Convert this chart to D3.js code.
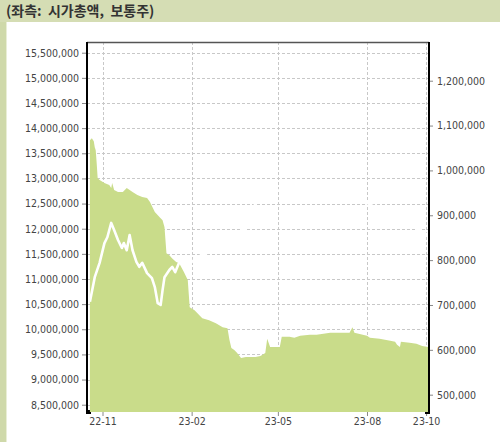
<!DOCTYPE html>
<html>
<head>
<meta charset="utf-8">
<script src="https://cdn.jsdelivr.net/npm/d3@7"></script>
<style>
	body { margin: 0; background: #fff; }
	svg { display: block; }
	.tick text { font-family: "DejaVu Sans Condensed", "DejaVu Sans", sans-serif; font-size: 10.5px; fill: #444; }
</style>
</head>
<body>
<svg width="500" height="442"></svg>
<script>
// market cap (left axis)
const capDates = [
	'2022-10-19', '2022-10-21', '2022-10-23', '2022-10-24', '2022-10-25', '2022-10-26', '2022-10-27', '2022-10-29',
	'2022-11-03', '2022-11-08', '2022-11-10', '2022-11-11', '2022-11-13', '2022-11-17', '2022-11-22', '2022-11-26',
	'2022-11-29', '2022-12-02', '2022-12-07', '2022-12-12', '2022-12-17', '2022-12-20', '2022-12-25', '2022-12-30',
	'2023-01-02', '2023-01-04', '2023-01-06', '2023-01-09', '2023-01-12', '2023-01-16', '2023-01-19', '2023-01-24',
	'2023-01-28', '2023-01-30', '2023-02-04', '2023-02-09', '2023-02-12', '2023-02-19', '2023-02-26', '2023-03-05',
	'2023-03-10', '2023-03-12', '2023-03-14', '2023-03-17', '2023-03-20', '2023-03-24', '2023-03-29', '2023-04-03',
	'2023-04-08', '2023-04-13', '2023-04-18', '2023-04-20', '2023-04-23', '2023-05-03', '2023-05-05', '2023-05-13',
	'2023-05-18', '2023-05-24', '2023-06-03', '2023-06-10', '2023-06-24', '2023-07-04', '2023-07-14', '2023-07-17',
	'2023-07-19', '2023-08-01', '2023-08-04', '2023-08-14', '2023-08-25', '2023-08-30', '2023-09-01', '2023-09-04',
	'2023-09-05', '2023-09-14', '2023-09-21', '2023-09-27', '2023-10-03'
]
const capValues = [
	13760000, 13800000, 13740000, 13620000, 13560000, 13300000, 13010000, 12970000,
	12910000, 12870000, 12810000, 12910000, 12770000, 12730000, 12730000, 12810000,
	12770000, 12730000, 12670000, 12630000, 12610000, 12530000, 12330000, 12230000,
	12170000, 12030000, 11510000, 11470000, 11410000, 11340000, 11320000, 11140000,
	10980000, 10440000, 10380000, 10280000, 10220000, 10180000, 10120000, 10040000,
	10020000, 9790000, 9630000, 9590000, 9530000, 9430000, 9450000, 9450000,
	9450000, 9470000, 9530000, 9810000, 9650000, 9650000, 9850000, 9850000,
	9830000, 9870000, 9890000, 9890000, 9930000, 9930000, 9930000, 10040000,
	9930000, 9870000, 9830000, 9810000, 9770000, 9750000, 9690000, 9650000,
	9750000, 9730000, 9710000, 9670000, 9650000
]

// white line (right axis)
const lineDates = [
	'2022-10-19', '2022-10-24', '2022-10-29', '2022-11-03', '2022-11-06', '2022-11-10', '2022-11-13', '2022-11-17',
	'2022-11-21', '2022-11-23', '2022-11-26', '2022-11-29', '2022-12-02', '2022-12-06', '2022-12-09', '2022-12-12',
	'2022-12-17', '2022-12-22', '2022-12-25', '2022-12-28', '2022-12-31', '2023-01-02', '2023-01-04', '2023-01-09',
	'2023-01-12', '2023-01-15', '2023-01-19', '2023-01-24', '2023-02-01', '2023-02-09', '2023-02-19', '2023-03-04',
	'2023-03-17', '2023-03-28', '2023-04-03', '2023-04-08', '2023-04-16', '2023-05-03', '2023-05-18', '2023-06-02',
	'2023-06-17', '2023-07-03', '2023-07-19', '2023-08-02', '2023-08-14', '2023-08-29', '2023-09-08', '2023-09-20',
	'2023-10-03'
]
const lineValues = [
	707000, 762000, 794000, 838000, 851000, 883000, 867000, 845000,
	827000, 838000, 822000, 856000, 822000, 796000, 785000, 794000,
	771000, 760000, 740000, 704000, 700000, 733000, 762000, 778000,
	785000, 773000, 794000, 805000, 796000, 809000, 818000, 816000,
	845000, 872000, 900000, 927000, 949000, 956000, 945000, 961000,
	952000, 965000, 952000, 927000, 911000, 900000, 907000, 872000,
	856000
]

const leftTicks = [8500000, 9000000, 9500000, 10000000, 10500000, 11000000, 11500000, 12000000,
	12500000, 13000000, 13500000, 14000000, 14500000, 15000000, 15500000]
const rightTicks = [500000, 600000, 700000, 800000, 900000, 1000000, 1100000, 1200000]
const xTicks = ['2022-11-01', '2023-02-01', '2023-05-01', '2023-08-01', '2023-10-01']

const title = '(좌측:\u00a0\u00a0시가총액,\u00a0\u00a0보통주)'

const parse = d3.timeParse('%Y-%m-%d')

const svg = d3.select('svg')
const width = +svg.attr('width')
const height = +svg.attr('height')

const plot = { left: 87, right: 429, top: 42, bottom: 412 }

const x = d3.scaleTime()
	.domain([parse('2022-10-16'), parse('2023-10-04')])
	.range([plot.left, plot.right])

const yLeft = d3.scaleLinear()
	.domain([8355000, 15713000])
	.range([plot.bottom, plot.top])

const yRight = d3.scaleLinear()
	.domain([461400, 1286300])
	.range([plot.bottom, plot.top])

// frame / header
svg.append('rect').attr('width', width).attr('height', height).attr('fill', '#fff')
svg.append('rect').attr('width', width).attr('height', 22).attr('fill', '#d5ddb4')
svg.append('rect').attr('y', 22).attr('width', 6).attr('height', height - 22).attr('fill', '#cfd9aa')
svg.append('rect').attr('x', 6).attr('y', 22).attr('width', 1).attr('height', height - 22).attr('fill', '#e9eed6')

svg.append('text')
	.attr('x', 6)
	.attr('y', 16)
	.attr('font-family', '"Noto Sans CJK KR", sans-serif')
	.attr('font-weight', 'bold')
	.attr('font-size', 14)
	.attr('fill', '#333')
	.text(title)

// grid
const grid = svg.append('g')
	.attr('stroke', '#c8c8c8')
	.attr('stroke-dasharray', '3,2')
	.attr('stroke-width', 1)

grid.selectAll('.hgrid')
	.data(leftTicks)
	.enter()
	.append('line')
	.attr('x1', plot.left)
	.attr('x2', plot.right)
	.attr('y1', d => Math.round(yLeft(d)) + 0.5)
	.attr('y2', d => Math.round(yLeft(d)) + 0.5)

grid.selectAll('.vgrid')
	.data(xTicks)
	.enter()
	.append('line')
	.attr('x1', d => Math.round(x(parse(d))) + 0.5)
	.attr('x2', d => Math.round(x(parse(d))) + 0.5)
	.attr('y1', plot.top)
	.attr('y2', plot.bottom)

// bottom line under the area
svg.append('line')
	.attr('x1', plot.left).attr('x2', plot.right)
	.attr('y1', plot.bottom - 1).attr('y2', plot.bottom - 1)
	.attr('stroke', '#000').attr('stroke-width', 2)

const capData = capDates.map((d, i) => ({ date: parse(d), value: capValues[i] }))
const lineData = lineDates.map((d, i) => ({ date: parse(d), value: lineValues[i] }))

const area = d3.area()
	.x(d => x(d.date))
	.y0(plot.bottom)
	.y1(d => yLeft(d.value))

svg.append('path')
	.datum(capData)
	.attr('d', area)
	.attr('fill', '#c9dc8a')

const line = d3.line()
	.x(d => x(d.date))
	.y(d => yRight(d.value))

svg.append('path')
	.datum(lineData)
	.attr('d', line)
	.attr('fill', 'none')
	.attr('stroke', '#fff')
	.attr('stroke-width', 2.6)
	.attr('stroke-linejoin', 'round')

// axes
const leftAxis = svg.append('g')
	.attr('transform', `translate(${plot.left},0)`)
	.call(d3.axisLeft(yLeft).tickValues(leftTicks).tickSize(5).tickSizeOuter(0).tickPadding(3).tickFormat(d3.format(',')))
leftAxis.select('.domain').remove()
leftAxis.selectAll('.tick line').attr('stroke', '#888')

const rightAxis = svg.append('g')
	.attr('transform', `translate(${plot.right},0)`)
	.call(d3.axisRight(yRight).tickValues(rightTicks).tickSize(4).tickSizeOuter(0).tickPadding(4).tickFormat(d3.format(',')))
rightAxis.select('.domain').remove()
rightAxis.selectAll('.tick line').attr('stroke', '#888')

const xAxis = svg.append('g')
	.attr('transform', `translate(0,${plot.bottom})`)
	.call(d3.axisBottom(x).tickValues(xTicks.map(parse)).tickSize(4).tickSizeOuter(0).tickPadding(2).tickFormat(d3.timeFormat('%y-%m')))
xAxis.select('.domain').remove()
xAxis.selectAll('.tick line').attr('stroke', '#888')

// plot border
svg.append('line')
	.attr('x1', plot.left).attr('x2', plot.right)
	.attr('y1', plot.top + 0.5).attr('y2', plot.top + 0.5)
	.attr('stroke', '#555').attr('stroke-width', 1.5)

svg.append('path')
	.attr('d', `M${plot.left + 4},${plot.bottom + 1}H${plot.left}V${plot.top}`)
	.attr('fill', 'none').attr('stroke', '#000').attr('stroke-width', 2)

svg.append('path')
	.attr('d', `M${plot.right - 4},${plot.bottom + 1}H${plot.right}V${plot.top}`)
	.attr('fill', 'none').attr('stroke', '#000').attr('stroke-width', 2)
</script>
</body>
</html>
